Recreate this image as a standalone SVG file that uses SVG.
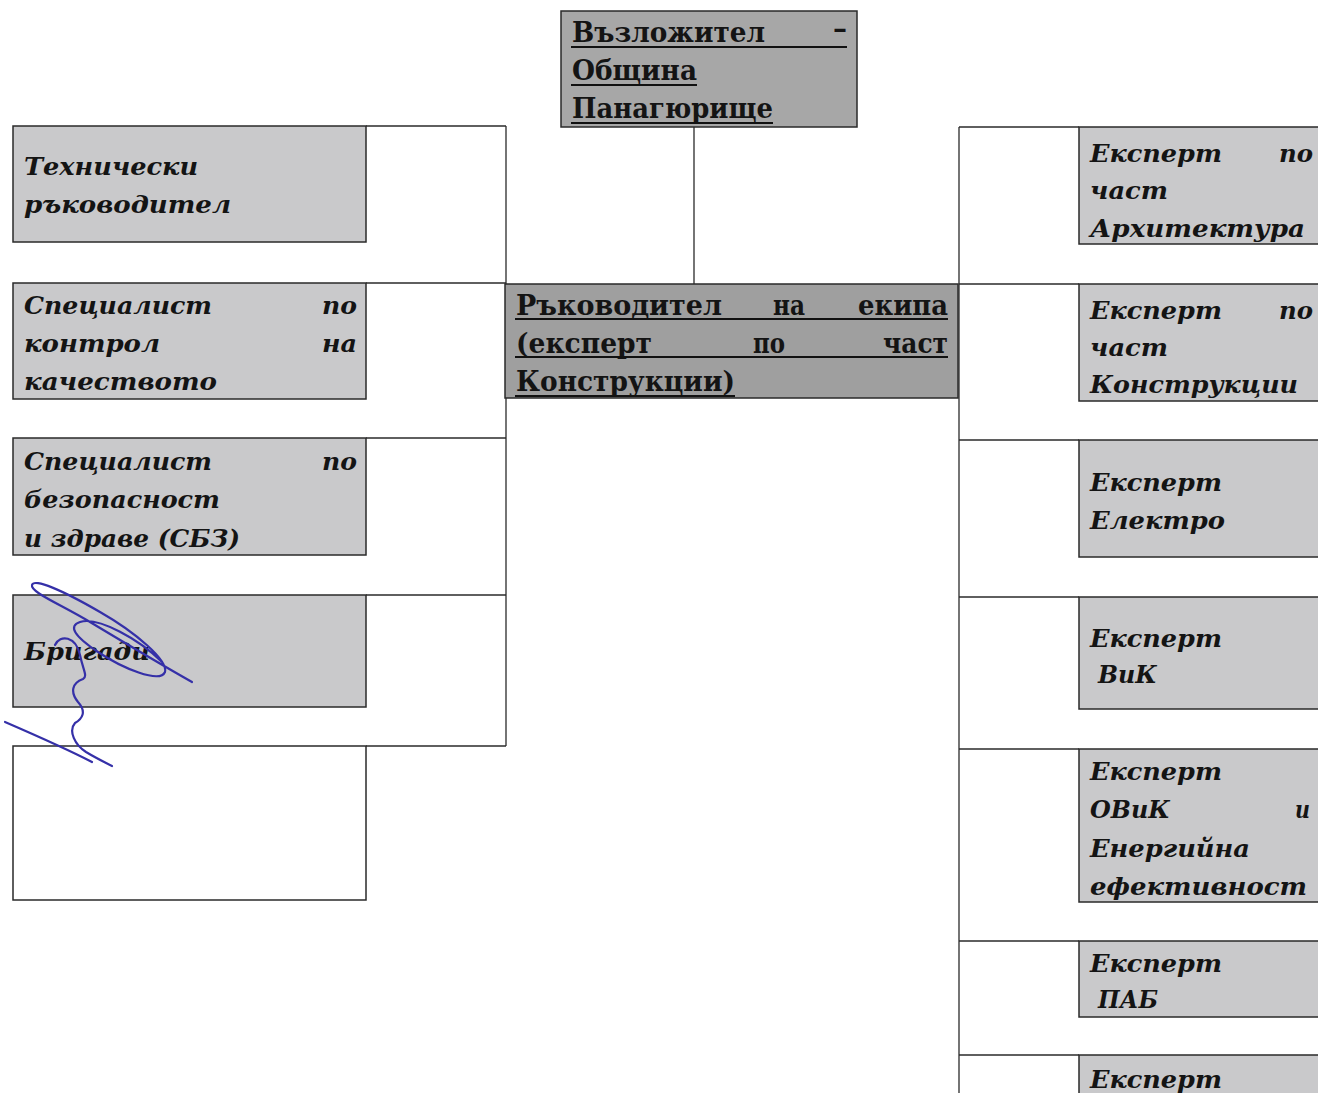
<svg xmlns="http://www.w3.org/2000/svg" width="1318" height="1093" viewBox="0 0 1318 1093">
<style>
.bg{fill:#ffffff}
.top{fill:#a7a7a7;stroke:#2a2a2a;stroke-width:1.5}
.mgr{fill:#9f9f9f;stroke:#2a2a2a;stroke-width:1.5}
.box{fill:#c9c9cb;stroke:#2a2a2a;stroke-width:1.5}
.empty{fill:#ffffff;stroke:#2a2a2a;stroke-width:1.5}
.conn line{stroke:#2a2a2a;stroke-width:1.3}
.ul{stroke:#111;stroke-width:2}
.t{font-family:"DejaVu Serif","Liberation Serif",serif;font-weight:bold;font-size:28px;fill:#141414}
.i{font-family:"DejaVu Serif","Liberation Serif",serif;font-weight:bold;font-style:italic;font-size:25px;fill:#141414}
.sig{fill:none;stroke:#3530a8;stroke-width:2.2;stroke-linecap:round;stroke-linejoin:round}
</style>
<rect class="bg" x="0" y="0" width="1318" height="1093"/>

<g id="connectors" class="conn">
  <line x1="694" y1="127" x2="694" y2="284"/>
  <line x1="366" y1="126" x2="506" y2="126"/>
  <line x1="366" y1="283" x2="506" y2="283"/>
  <line x1="366" y1="438" x2="506" y2="438"/>
  <line x1="366" y1="595" x2="506" y2="595"/>
  <line x1="366" y1="746" x2="506" y2="746"/>
  <line x1="506" y1="126" x2="506" y2="746"/>
  <line x1="959" y1="127" x2="959" y2="1093"/>
  <line x1="959" y1="127" x2="1079" y2="127"/>
  <line x1="959" y1="284" x2="1079" y2="284"/>
  <line x1="959" y1="440" x2="1079" y2="440"/>
  <line x1="959" y1="597" x2="1079" y2="597"/>
  <line x1="959" y1="749" x2="1079" y2="749"/>
  <line x1="959" y1="941" x2="1079" y2="941"/>
  <line x1="959" y1="1055" x2="1079" y2="1055"/>
</g>

<g id="node-vazlozhitel">
  <rect class="top" x="561" y="11" width="296" height="116"/>
  <text class="t" x="572" y="42" textLength="193" lengthAdjust="spacingAndGlyphs">Възложител</text>
  <text class="t" x="833" y="38" textLength="14" lengthAdjust="spacingAndGlyphs">–</text>
  <text class="t" x="572" y="80" textLength="125" lengthAdjust="spacingAndGlyphs">Община</text>
  <text class="t" x="572" y="118" textLength="201" lengthAdjust="spacingAndGlyphs">Панагюрище</text>
  <line class="ul" x1="571" y1="47" x2="847" y2="47"/>
  <line class="ul" x1="571" y1="85" x2="697" y2="85"/>
  <line class="ul" x1="571" y1="123" x2="773" y2="123"/>
</g>

<g id="node-rakovoditel">
  <rect class="mgr" x="505" y="284" width="453" height="114"/>
  <text class="t" x="516" y="315" textLength="206" lengthAdjust="spacingAndGlyphs">Ръководител</text>
  <text class="t" x="773" y="315" textLength="32" lengthAdjust="spacingAndGlyphs">на</text>
  <text class="t" x="858" y="315" textLength="90" lengthAdjust="spacingAndGlyphs">екипа</text>
  <text class="t" x="516" y="353" textLength="136" lengthAdjust="spacingAndGlyphs">(експерт</text>
  <text class="t" x="753" y="353" textLength="32" lengthAdjust="spacingAndGlyphs">по</text>
  <text class="t" x="883" y="353" textLength="65" lengthAdjust="spacingAndGlyphs">част</text>
  <text class="t" x="516" y="391" textLength="219" lengthAdjust="spacingAndGlyphs">Конструкции)</text>
  <line class="ul" x1="515" y1="319" x2="948" y2="319"/>
  <line class="ul" x1="515" y1="357" x2="948" y2="357"/>
  <line class="ul" x1="515" y1="396" x2="735" y2="396"/>
</g>

<g id="node-tehnicheski">
  <rect class="box" x="13" y="126" width="353" height="116"/>
  <text class="i" x="24" y="175" textLength="174" lengthAdjust="spacingAndGlyphs">Технически</text>
  <text class="i" x="24" y="213" textLength="207" lengthAdjust="spacingAndGlyphs">ръководител</text>
</g>

<g id="node-kontrol">
  <rect class="box" x="13" y="283" width="353" height="116"/>
  <text class="i" x="24" y="314" textLength="188" lengthAdjust="spacingAndGlyphs">Специалист</text>
  <text class="i" x="322" y="314" textLength="35" lengthAdjust="spacingAndGlyphs">по</text>
  <text class="i" x="24" y="352" textLength="136" lengthAdjust="spacingAndGlyphs">контрол</text>
  <text class="i" x="322" y="352" textLength="35" lengthAdjust="spacingAndGlyphs">на</text>
  <text class="i" x="24" y="390" textLength="193" lengthAdjust="spacingAndGlyphs">качеството</text>
</g>

<g id="node-sbz">
  <rect class="box" x="13" y="438" width="353" height="117"/>
  <text class="i" x="24" y="470" textLength="188" lengthAdjust="spacingAndGlyphs">Специалист</text>
  <text class="i" x="322" y="470" textLength="35" lengthAdjust="spacingAndGlyphs">по</text>
  <text class="i" x="24" y="508" textLength="196" lengthAdjust="spacingAndGlyphs">безопасност</text>
  <text class="i" x="24" y="547" textLength="216" lengthAdjust="spacingAndGlyphs">и здраве (СБЗ)</text>
</g>

<g id="node-brigadi">
  <rect class="box" x="13" y="595" width="353" height="112"/>
  <text class="i" x="24" y="660" textLength="126" lengthAdjust="spacingAndGlyphs">Бригади</text>
</g>

<g id="node-empty">
  <rect class="empty" x="13" y="746" width="353" height="154"/>
</g>

<g id="node-arhitektura">
  <rect class="box" x="1079" y="127" width="260" height="117"/>
  <text class="i" x="1090" y="162" textLength="132" lengthAdjust="spacingAndGlyphs">Експерт</text>
  <text class="i" x="1279" y="162" textLength="34" lengthAdjust="spacingAndGlyphs">по</text>
  <text class="i" x="1090" y="199" textLength="78" lengthAdjust="spacingAndGlyphs">част</text>
  <text class="i" x="1090" y="237" textLength="215" lengthAdjust="spacingAndGlyphs">Архитектура</text>
</g>

<g id="node-konstrukcii">
  <rect class="box" x="1079" y="284" width="260" height="117"/>
  <text class="i" x="1090" y="319" textLength="132" lengthAdjust="spacingAndGlyphs">Експерт</text>
  <text class="i" x="1279" y="319" textLength="34" lengthAdjust="spacingAndGlyphs">по</text>
  <text class="i" x="1090" y="356" textLength="78" lengthAdjust="spacingAndGlyphs">част</text>
  <text class="i" x="1090" y="393" textLength="208" lengthAdjust="spacingAndGlyphs">Конструкции</text>
</g>

<g id="node-elektro">
  <rect class="box" x="1079" y="440" width="260" height="117"/>
  <text class="i" x="1090" y="491" textLength="132" lengthAdjust="spacingAndGlyphs">Експерт</text>
  <text class="i" x="1090" y="529" textLength="135" lengthAdjust="spacingAndGlyphs">Електро</text>
</g>

<g id="node-vik">
  <rect class="box" x="1079" y="597" width="260" height="112"/>
  <text class="i" x="1090" y="647" textLength="132" lengthAdjust="spacingAndGlyphs">Експерт</text>
  <text class="i" x="1098" y="683" textLength="59" lengthAdjust="spacingAndGlyphs">ВиК</text>
</g>

<g id="node-ovik">
  <rect class="box" x="1079" y="749" width="260" height="153"/>
  <text class="i" x="1090" y="780" textLength="132" lengthAdjust="spacingAndGlyphs">Експерт</text>
  <text class="i" x="1090" y="818" textLength="80" lengthAdjust="spacingAndGlyphs">ОВиК</text>
  <text class="i" x="1295" y="818" textLength="15" lengthAdjust="spacingAndGlyphs">и</text>
  <text class="i" x="1090" y="857" textLength="160" lengthAdjust="spacingAndGlyphs">Енергийна</text>
  <text class="i" x="1090" y="895" textLength="217" lengthAdjust="spacingAndGlyphs">ефективност</text>
</g>

<g id="node-pab">
  <rect class="box" x="1079" y="941" width="260" height="76"/>
  <text class="i" x="1090" y="972" textLength="132" lengthAdjust="spacingAndGlyphs">Експерт</text>
  <text class="i" x="1098" y="1008" textLength="60" lengthAdjust="spacingAndGlyphs">ПАБ</text>
</g>

<g id="node-ekspert-last">
  <rect class="box" x="1079" y="1055" width="260" height="60"/>
  <text class="i" x="1090" y="1088" textLength="132" lengthAdjust="spacingAndGlyphs">Експерт</text>
</g>

<g id="signature">
  <path class="sig" d="M192 682 C160 664 120 640 90 622 C60 604 30 592 32 585 C34 578 62 590 100 612 C135 632 168 660 165 672 C160 684 122 668 98 652 C74 636 68 626 80 622 C98 616 140 640 162 662"/>
  <path class="sig" stroke-width="2.8" d="M55 645 C60 634 76 636 80 655 C83 670 88 676 83 679 C72 683 70 692 78 702 C87 712 82 719 75 723 C68 731 75 745 86 752 C96 758 104 762 112 766"/>
  <path class="sig" stroke-width="1.5" d="M5 722 C35 735 65 748 92 762"/>
</g>
</svg>
